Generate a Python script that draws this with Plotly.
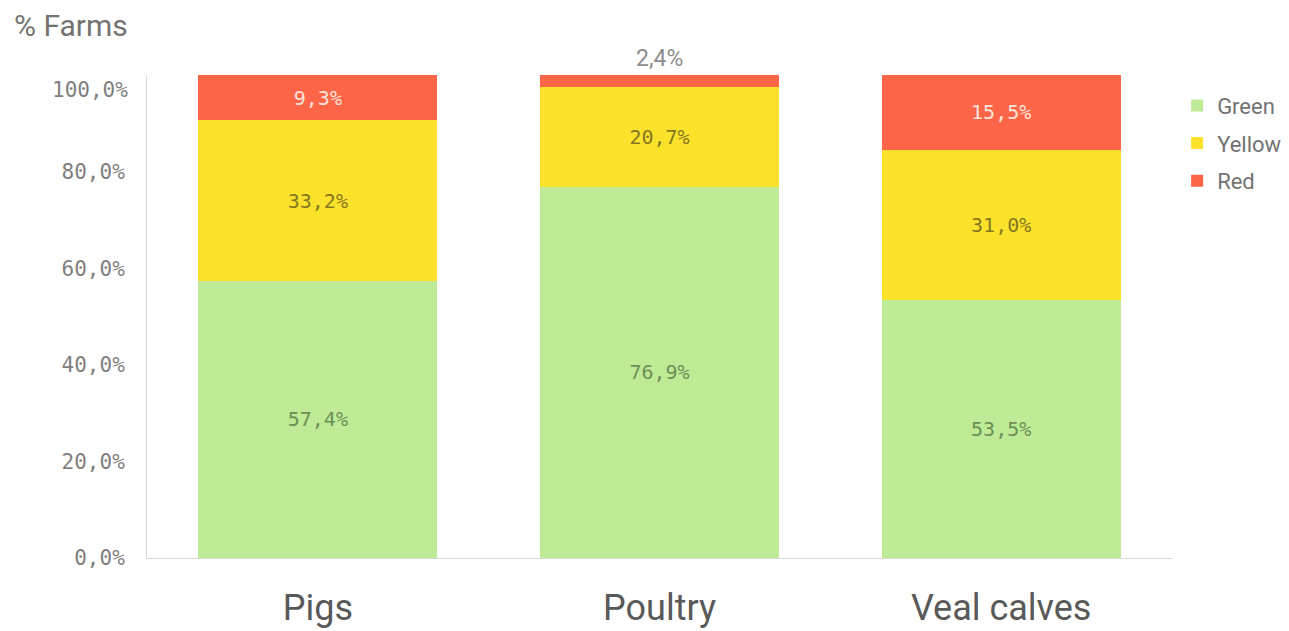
import plotly.graph_objects as go

categories = ["Pigs", "Poultry", "Veal calves"]
green = [57.4, 76.9, 53.5]
yellow = [33.2, 20.7, 31.0]
red = [9.3, 2.4, 15.5]

y_ticks = [0, 20, 40, 60, 80, 100]

# thin red slice on Poultry gets its label above the bar instead
red_outside = [False, True, False]


def fmt(v):
    return f"{v:.1f}%".replace(".", ",")


fig = go.Figure()

fig.add_trace(
    go.Bar(
        name="Green",
        x=categories,
        y=green,
        marker=dict(color="#bfeb97", line=dict(width=0)),
        text=[fmt(v) for v in green],
        textposition="inside",
        insidetextanchor="middle",
        textfont=dict(color="#6b8f55", size=20, family="DejaVu Sans Mono"),
        legendgroup="g",
        hoverinfo="skip",
    )
)
fig.add_trace(
    go.Bar(
        name="Yellow",
        x=categories,
        y=yellow,
        marker=dict(color="#fce22b", line=dict(width=0)),
        text=[fmt(v) for v in yellow],
        textposition="inside",
        insidetextanchor="middle",
        textfont=dict(color="#857722", size=20, family="DejaVu Sans Mono"),
        legendgroup="y",
        hoverinfo="skip",
    )
)
fig.add_trace(
    go.Bar(
        name="Red",
        x=categories,
        y=red,
        marker=dict(color="#fd6548", line=dict(width=0)),
        text=["" if o else fmt(v) for v, o in zip(red, red_outside)],
        textposition="inside",
        insidetextanchor="middle",
        textfont=dict(color="#fde4dc", size=20, family="DejaVu Sans Mono"),
        legendgroup="r",
        hoverinfo="skip",
    )
)

annotations = [
    dict(
        text="% Farms",
        xref="paper",
        yref="paper",
        x=-0.1317,
        y=1.0,
        yshift=50,
        xanchor="left",
        yanchor="middle",
        showarrow=False,
        font=dict(family="Roboto", size=30, color="#737373"),
    ),
    # top tick label sits a little lower so it stays inside the frame
    dict(
        text=f"{y_ticks[-1]},0%",
        xref="paper",
        yref="y",
        x=0,
        y=y_ticks[-1],
        xanchor="right",
        yanchor="middle",
        xshift=-17,
        yshift=-15,
        showarrow=False,
        font=dict(family="DejaVu Sans Mono", size=21, color="#7f7f7f"),
    ),
]
for i, cat in enumerate(categories):
    if red_outside[i]:
        annotations.append(
            dict(
                text=fmt(red[i]),
                x=cat,
                y=min(round(green[i] + yellow[i] + red[i], 1), 100),
                xref="x",
                yref="y",
                yanchor="bottom",
                yshift=1,
                showarrow=False,
                font=dict(family="Roboto", size=23, color="#8c8c8c"),
            )
        )

fig.update_layout(
    width=1289,
    height=631,
    barmode="stack",
    bargap=0.3,
    plot_bgcolor="white",
    paper_bgcolor="white",
    margin=dict(l=139, r=125, t=67, b=81, autoexpand=False),
    legend=dict(
        x=1.005,
        y=0.98,
        xanchor="left",
        yanchor="top",
        traceorder="grouped",
        tracegroupgap=6,
        font=dict(family="Roboto", size=22, color="#737373"),
    ),
    annotations=annotations,
)

fig.update_yaxes(
    range=[0, 100],
    tickvals=y_ticks[:-1],
    ticktext=[f"{v},0%" for v in y_ticks[:-1]],
    showgrid=False,
    showline=True,
    linecolor="#d9d9d9",
    linewidth=1,
    zeroline=False,
    ticks="",
    ticklabelstandoff=17,
    tickfont=dict(family="DejaVu Sans Mono", size=21, color="#7f7f7f"),
)

fig.update_xaxes(
    showgrid=False,
    showline=True,
    linecolor="#d9d9d9",
    linewidth=1,
    ticks="",
    automargin=False,
    ticklabelstandoff=18,
    tickfont=dict(family="Roboto", size=36, color="#595959"),
)

fig.write_html("out.html")
